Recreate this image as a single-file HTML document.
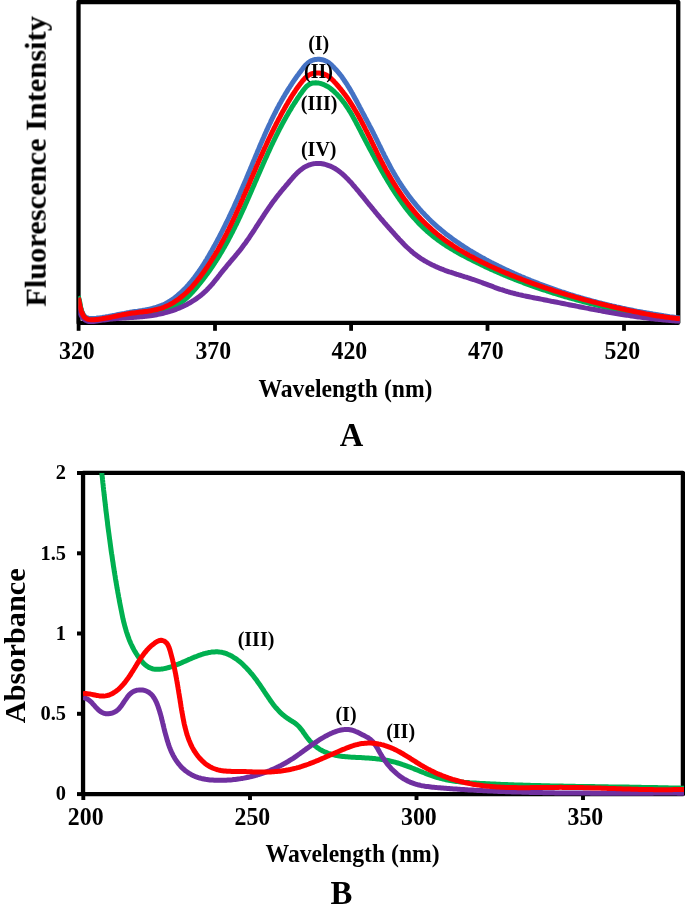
<!DOCTYPE html>
<html><head><meta charset="utf-8"><style>
html,body{margin:0;padding:0;background:#fff;width:685px;height:915px;overflow:hidden}
svg{display:block}
text{font-family:"Liberation Serif", serif;font-weight:bold;fill:#000}
.tx{will-change:transform}
</style></head><body>
<svg width="685" height="915" viewBox="0 0 685 915">
<rect x="78.5" y="2.0" width="599.75" height="320.85" fill="none" stroke="#000" stroke-width="4.3" stroke-linejoin="round"/>
<line x1="78.60" y1="323" x2="78.60" y2="330.8" stroke="#000" stroke-width="3.8"/>
<line x1="215.00" y1="323" x2="215.00" y2="330.8" stroke="#000" stroke-width="3.8"/>
<line x1="351.10" y1="323" x2="351.10" y2="330.8" stroke="#000" stroke-width="3.8"/>
<line x1="487.50" y1="323" x2="487.50" y2="330.8" stroke="#000" stroke-width="3.8"/>
<line x1="624.00" y1="323" x2="624.00" y2="330.8" stroke="#000" stroke-width="3.8"/>
<clipPath id="clipA"><rect x="78.3" y="-10" width="601.7" height="340"/></clipPath>
<g fill="none" stroke-linejoin="round" stroke-linecap="butt" stroke-width="5.00" clip-path="url(#clipA)">
<path d="M78.3,297.1 L78.6,298.3 L78.9,299.6 L79.2,301.0 L79.5,302.5 L79.8,304.1 L80.2,305.7 L80.5,307.3 L81.0,308.9 L81.4,310.4 L82.0,311.9 L82.6,313.2 L83.3,314.5 L84.2,315.6 L85.1,316.6 L86.1,317.4 L87.3,318.0 L88.6,318.3 L90.0,318.5 L91.5,318.6 L93.0,318.6 L94.6,318.4 L96.2,318.3 L97.7,318.1 L99.3,317.9 L100.8,317.7 L102.3,317.5 L103.8,317.2 L105.3,317.0 L106.8,316.7 L108.3,316.5 L109.8,316.2 L111.2,315.9 L112.7,315.6 L114.2,315.4 L115.6,315.1 L117.1,314.8 L118.5,314.5 L120.0,314.2 L121.4,313.9 L122.9,313.6 L124.3,313.4 L125.8,313.1 L127.3,312.8 L128.7,312.6 L130.2,312.3 L131.7,312.1 L133.2,311.8 L134.7,311.6 L136.2,311.4 L137.7,311.2 L139.2,310.9 L140.6,310.7 L142.1,310.5 L143.6,310.2 L145.1,310.0 L146.6,309.7 L148.1,309.4 L149.6,309.1 L151.0,308.8 L152.5,308.4 L153.9,308.0 L155.4,307.6 L156.8,307.2 L158.2,306.7 L159.6,306.2 L161.0,305.7 L162.3,305.1 L163.7,304.5 L165.0,303.9 L166.3,303.2 L167.6,302.5 L168.9,301.7 L170.1,301.0 L171.4,300.2 L172.6,299.3 L173.8,298.5 L175.0,297.6 L176.2,296.6 L177.4,295.7 L178.5,294.7 L179.6,293.7 L180.8,292.7 L181.9,291.7 L183.0,290.6 L184.0,289.6 L185.1,288.5 L186.2,287.4 L187.2,286.2 L188.2,285.1 L189.2,283.9 L190.2,282.8 L191.2,281.6 L192.2,280.4 L193.1,279.2 L194.1,278.0 L195.0,276.8 L195.9,275.5 L196.8,274.3 L197.7,273.1 L198.6,271.8 L199.5,270.6 L200.3,269.3 L201.2,268.0 L202.0,266.8 L202.8,265.5 L203.6,264.3 L204.4,263.0 L205.2,261.7 L206.0,260.5 L206.8,259.2 L207.5,257.9 L208.3,256.6 L209.0,255.4 L209.8,254.1 L210.5,252.8 L211.2,251.5 L212.0,250.2 L212.7,248.9 L213.4,247.6 L214.1,246.3 L214.9,245.0 L215.6,243.7 L216.3,242.4 L217.0,241.1 L217.7,239.8 L218.4,238.5 L219.1,237.2 L219.8,235.8 L220.5,234.5 L221.1,233.2 L221.8,231.9 L222.5,230.5 L223.2,229.2 L223.8,227.9 L224.5,226.5 L225.2,225.2 L225.8,223.8 L226.5,222.5 L227.1,221.2 L227.8,219.8 L228.4,218.5 L229.1,217.1 L229.7,215.7 L230.4,214.4 L231.0,213.0 L231.7,211.7 L232.3,210.3 L232.9,209.0 L233.6,207.6 L234.2,206.2 L234.8,204.9 L235.4,203.5 L236.0,202.1 L236.7,200.8 L237.3,199.4 L237.9,198.0 L238.5,196.6 L239.1,195.3 L239.7,193.9 L240.3,192.5 L240.9,191.1 L241.5,189.7 L242.1,188.4 L242.7,187.0 L243.3,185.6 L243.9,184.2 L244.5,182.8 L245.1,181.4 L245.7,180.1 L246.3,178.7 L246.8,177.3 L247.4,175.9 L248.0,174.5 L248.6,173.1 L249.2,171.7 L249.8,170.4 L250.3,169.0 L250.9,167.6 L251.5,166.2 L252.1,164.8 L252.6,163.4 L253.2,162.0 L253.8,160.6 L254.4,159.2 L254.9,157.9 L255.5,156.5 L256.1,155.1 L256.7,153.7 L257.2,152.3 L257.8,150.9 L258.4,149.6 L259.0,148.2 L259.6,146.8 L260.1,145.4 L260.7,144.0 L261.3,142.7 L261.9,141.3 L262.5,139.9 L263.1,138.5 L263.7,137.2 L264.3,135.8 L264.9,134.4 L265.5,133.0 L266.1,131.7 L266.7,130.3 L267.4,129.0 L268.0,127.6 L268.6,126.2 L269.2,124.9 L269.9,123.5 L270.5,122.2 L271.1,120.8 L271.8,119.5 L272.4,118.1 L273.1,116.8 L273.7,115.5 L274.4,114.1 L275.1,112.8 L275.8,111.5 L276.4,110.1 L277.1,108.8 L277.8,107.5 L278.5,106.2 L279.2,104.8 L279.9,103.5 L280.7,102.2 L281.4,100.9 L282.1,99.6 L282.9,98.3 L283.6,97.0 L284.4,95.7 L285.1,94.4 L285.9,93.2 L286.7,91.9 L287.5,90.6 L288.2,89.3 L289.0,88.1 L289.9,86.8 L290.7,85.5 L291.5,84.3 L292.3,83.0 L293.2,81.8 L294.0,80.5 L294.9,79.3 L295.8,78.1 L296.6,76.8 L297.5,75.6 L298.4,74.4 L299.3,73.1 L300.2,71.9 L301.1,70.7 L302.1,69.5 L303.0,68.3 L303.9,67.1 L304.9,65.9 L305.9,64.8 L307.0,63.8 L308.1,62.8 L309.3,61.9 L310.5,61.2 L311.8,60.5 L313.2,60.0 L314.7,59.6 L316.2,59.4 L317.7,59.3 L319.2,59.3 L320.7,59.5 L322.2,59.7 L323.7,60.2 L325.1,60.7 L326.5,61.3 L327.8,62.1 L329.0,62.9 L330.2,63.9 L331.3,64.9 L332.4,65.9 L333.5,67.0 L334.5,68.1 L335.5,69.2 L336.5,70.3 L337.5,71.4 L338.5,72.6 L339.4,73.8 L340.4,74.9 L341.3,76.1 L342.2,77.3 L343.0,78.6 L343.9,79.8 L344.7,81.0 L345.6,82.3 L346.4,83.5 L347.2,84.8 L348.0,86.1 L348.8,87.3 L349.5,88.6 L350.3,89.9 L351.1,91.2 L351.8,92.5 L352.6,93.8 L353.3,95.1 L354.0,96.5 L354.7,97.8 L355.4,99.1 L356.2,100.4 L356.9,101.8 L357.6,103.1 L358.3,104.4 L359.0,105.7 L359.7,107.1 L360.4,108.4 L361.1,109.7 L361.8,111.1 L362.5,112.4 L363.2,113.7 L363.9,115.0 L364.6,116.3 L365.3,117.7 L366.0,119.0 L366.7,120.3 L367.4,121.6 L368.1,122.9 L368.8,124.2 L369.5,125.6 L370.2,126.9 L370.9,128.2 L371.6,129.5 L372.3,130.9 L372.9,132.2 L373.6,133.5 L374.3,134.9 L375.0,136.2 L375.6,137.6 L376.3,138.9 L377.0,140.3 L377.6,141.6 L378.3,143.0 L378.9,144.3 L379.6,145.7 L380.3,147.0 L380.9,148.4 L381.6,149.7 L382.2,151.1 L382.9,152.4 L383.6,153.7 L384.2,155.1 L384.9,156.4 L385.6,157.8 L386.3,159.1 L387.0,160.5 L387.7,161.8 L388.4,163.1 L389.1,164.5 L389.8,165.8 L390.5,167.1 L391.2,168.4 L391.9,169.7 L392.7,171.0 L393.4,172.3 L394.2,173.6 L394.9,174.9 L395.7,176.2 L396.5,177.5 L397.3,178.8 L398.0,180.1 L398.8,181.3 L399.7,182.6 L400.5,183.9 L401.3,185.1 L402.1,186.4 L403.0,187.6 L403.8,188.9 L404.7,190.1 L405.5,191.3 L406.4,192.5 L407.3,193.7 L408.2,195.0 L409.1,196.2 L410.0,197.4 L410.9,198.5 L411.8,199.7 L412.7,200.9 L413.7,202.1 L414.6,203.2 L415.6,204.4 L416.5,205.5 L417.5,206.7 L418.5,207.8 L419.4,208.9 L420.4,210.0 L421.4,211.1 L422.4,212.2 L423.5,213.3 L424.5,214.4 L425.5,215.5 L426.6,216.6 L427.6,217.6 L428.7,218.7 L429.7,219.7 L430.8,220.8 L431.9,221.8 L433.0,222.8 L434.1,223.8 L435.2,224.8 L436.3,225.8 L437.4,226.8 L438.5,227.8 L439.7,228.7 L440.8,229.7 L442.0,230.7 L443.1,231.6 L444.3,232.5 L445.4,233.5 L446.6,234.4 L447.8,235.3 L449.0,236.2 L450.2,237.1 L451.4,238.0 L452.6,238.9 L453.8,239.8 L455.0,240.6 L456.3,241.5 L457.5,242.4 L458.7,243.2 L460.0,244.1 L461.2,244.9 L462.5,245.7 L463.7,246.5 L465.0,247.4 L466.3,248.2 L467.5,249.0 L468.8,249.8 L470.1,250.6 L471.4,251.3 L472.7,252.1 L474.0,252.9 L475.3,253.7 L476.6,254.4 L477.9,255.2 L479.2,255.9 L480.5,256.7 L481.8,257.4 L483.1,258.1 L484.5,258.8 L485.8,259.6 L487.1,260.3 L488.4,261.0 L489.8,261.7 L491.1,262.4 L492.5,263.1 L493.8,263.8 L495.2,264.4 L496.5,265.1 L497.9,265.8 L499.2,266.4 L500.6,267.1 L501.9,267.8 L503.3,268.4 L504.6,269.1 L506.0,269.7 L507.4,270.3 L508.7,271.0 L510.1,271.6 L511.5,272.2 L512.8,272.8 L514.2,273.5 L515.6,274.1 L517.0,274.7 L518.3,275.3 L519.7,275.9 L521.1,276.5 L522.5,277.0 L523.9,277.6 L525.2,278.2 L526.6,278.8 L528.0,279.4 L529.4,279.9 L530.8,280.5 L532.2,281.0 L533.6,281.6 L535.0,282.1 L536.4,282.7 L537.8,283.2 L539.2,283.8 L540.6,284.3 L542.0,284.8 L543.4,285.3 L544.8,285.9 L546.2,286.4 L547.6,286.9 L549.0,287.4 L550.4,287.9 L551.8,288.4 L553.2,288.9 L554.6,289.4 L556.0,289.9 L557.4,290.4 L558.9,290.8 L560.3,291.3 L561.7,291.8 L563.1,292.2 L564.5,292.7 L566.0,293.2 L567.4,293.6 L568.8,294.1 L570.2,294.5 L571.7,295.0 L573.1,295.4 L574.5,295.8 L575.9,296.3 L577.4,296.7 L578.8,297.1 L580.2,297.5 L581.7,298.0 L583.1,298.4 L584.6,298.8 L586.0,299.2 L587.4,299.6 L588.9,300.0 L590.3,300.4 L591.8,300.8 L593.2,301.2 L594.6,301.5 L596.1,301.9 L597.5,302.3 L599.0,302.7 L600.4,303.0 L601.9,303.4 L603.3,303.8 L604.8,304.1 L606.2,304.5 L607.7,304.8 L609.2,305.2 L610.6,305.5 L612.1,305.9 L613.5,306.2 L615.0,306.5 L616.4,306.9 L617.9,307.2 L619.4,307.5 L620.8,307.8 L622.3,308.2 L623.8,308.5 L625.2,308.8 L626.7,309.1 L628.2,309.4 L629.6,309.7 L631.1,310.0 L632.6,310.3 L634.0,310.6 L635.5,310.9 L637.0,311.2 L638.5,311.4 L639.9,311.7 L641.4,312.0 L642.9,312.3 L644.4,312.5 L645.9,312.8 L647.3,313.1 L648.8,313.3 L650.3,313.6 L651.8,313.8 L653.3,314.1 L654.7,314.3 L656.2,314.6 L657.7,314.8 L659.2,315.1 L660.7,315.3 L662.2,315.5 L663.7,315.8 L665.1,316.0 L666.6,316.2 L668.1,316.4 L669.6,316.7 L671.1,316.9 L672.6,317.1 L674.1,317.3 L675.6,317.5 L677.1,317.7 L678.6,317.9 L680.1,318.1" stroke="#4472C4"/>
<path d="M78.1,296.3 L78.6,297.6 L79.0,298.9 L79.4,300.3 L79.7,301.8 L79.9,303.3 L80.2,304.8 L80.5,306.4 L80.8,307.9 L81.1,309.5 L81.5,311.0 L82.0,312.5 L82.6,314.0 L83.2,315.3 L84.0,316.5 L84.9,317.6 L85.9,318.5 L87.1,319.2 L88.3,319.7 L89.7,320.0 L91.2,320.2 L92.7,320.2 L94.2,320.2 L95.8,320.1 L97.3,320.0 L98.9,319.9 L100.4,319.7 L101.9,319.5 L103.4,319.3 L104.9,319.1 L106.4,318.9 L107.9,318.7 L109.3,318.5 L110.8,318.3 L112.2,318.0 L113.7,317.8 L115.1,317.5 L116.6,317.3 L118.0,317.0 L119.5,316.7 L120.9,316.5 L122.4,316.2 L123.8,316.0 L125.3,315.7 L126.8,315.5 L128.2,315.2 L129.7,315.0 L131.2,314.8 L132.7,314.6 L134.2,314.4 L135.7,314.2 L137.2,314.0 L138.7,313.8 L140.3,313.6 L141.8,313.4 L143.3,313.2 L144.8,313.0 L146.4,312.8 L147.9,312.6 L149.4,312.3 L150.9,312.1 L152.4,311.9 L153.9,311.6 L155.4,311.4 L156.9,311.1 L158.4,310.8 L159.9,310.5 L161.4,310.1 L162.8,309.8 L164.3,309.4 L165.7,309.0 L167.2,308.6 L168.6,308.1 L170.0,307.6 L171.4,307.1 L172.7,306.6 L174.1,306.0 L175.4,305.4 L176.7,304.8 L178.0,304.1 L179.3,303.4 L180.5,302.6 L181.8,301.8 L183.0,301.0 L184.2,300.1 L185.3,299.1 L186.5,298.2 L187.6,297.2 L188.7,296.1 L189.7,295.0 L190.8,293.9 L191.8,292.8 L192.9,291.7 L193.9,290.5 L194.9,289.4 L195.9,288.2 L196.9,287.1 L197.8,285.9 L198.8,284.7 L199.8,283.5 L200.7,282.3 L201.6,281.2 L202.6,280.0 L203.5,278.8 L204.4,277.6 L205.3,276.4 L206.2,275.1 L207.1,273.9 L208.0,272.7 L208.9,271.5 L209.7,270.3 L210.6,269.0 L211.4,267.8 L212.3,266.5 L213.1,265.3 L213.9,264.1 L214.8,262.8 L215.6,261.5 L216.4,260.3 L217.2,259.0 L218.0,257.8 L218.8,256.5 L219.5,255.2 L220.3,253.9 L221.1,252.7 L221.8,251.4 L222.6,250.1 L223.3,248.8 L224.1,247.5 L224.8,246.2 L225.5,244.9 L226.3,243.6 L227.0,242.3 L227.7,241.0 L228.4,239.7 L229.1,238.3 L229.8,237.0 L230.5,235.7 L231.2,234.4 L231.9,233.0 L232.6,231.7 L233.2,230.4 L233.9,229.0 L234.6,227.7 L235.2,226.4 L235.9,225.0 L236.6,223.7 L237.2,222.3 L237.9,221.0 L238.5,219.6 L239.1,218.3 L239.8,216.9 L240.4,215.6 L241.0,214.2 L241.7,212.8 L242.3,211.5 L242.9,210.1 L243.5,208.8 L244.2,207.4 L244.8,206.0 L245.4,204.6 L246.0,203.3 L246.6,201.9 L247.2,200.5 L247.8,199.2 L248.4,197.8 L249.0,196.4 L249.6,195.0 L250.2,193.7 L250.8,192.3 L251.4,190.9 L252.0,189.5 L252.6,188.1 L253.2,186.8 L253.8,185.4 L254.4,184.0 L255.0,182.6 L255.6,181.2 L256.2,179.9 L256.8,178.5 L257.4,177.1 L258.0,175.7 L258.6,174.3 L259.2,172.9 L259.8,171.6 L260.4,170.2 L261.0,168.8 L261.6,167.4 L262.2,166.1 L262.8,164.7 L263.4,163.3 L264.0,161.9 L264.6,160.6 L265.2,159.2 L265.9,157.8 L266.5,156.4 L267.1,155.1 L267.7,153.7 L268.3,152.3 L269.0,151.0 L269.6,149.6 L270.2,148.3 L270.8,146.9 L271.5,145.5 L272.1,144.2 L272.8,142.8 L273.4,141.5 L274.1,140.1 L274.7,138.8 L275.4,137.4 L276.0,136.1 L276.7,134.8 L277.4,133.4 L278.0,132.1 L278.7,130.8 L279.4,129.4 L280.1,128.1 L280.8,126.8 L281.5,125.5 L282.2,124.1 L282.9,122.8 L283.6,121.5 L284.3,120.2 L285.1,118.9 L285.8,117.6 L286.5,116.3 L287.3,115.0 L288.0,113.7 L288.8,112.4 L289.5,111.1 L290.3,109.9 L291.1,108.6 L291.8,107.3 L292.6,106.0 L293.4,104.8 L294.2,103.5 L295.0,102.3 L295.9,101.0 L296.7,99.7 L297.5,98.5 L298.4,97.2 L299.3,95.9 L300.1,94.7 L301.0,93.4 L301.9,92.2 L302.8,90.9 L303.7,89.7 L304.7,88.5 L305.7,87.3 L306.7,86.3 L307.8,85.4 L309.0,84.5 L310.2,83.9 L311.5,83.4 L312.9,83.0 L314.3,82.9 L315.7,82.8 L317.2,82.9 L318.7,83.1 L320.2,83.4 L321.7,83.9 L323.2,84.4 L324.6,85.0 L326.0,85.7 L327.4,86.4 L328.7,87.2 L329.9,88.1 L331.1,89.0 L332.3,90.0 L333.4,90.9 L334.5,91.9 L335.6,93.0 L336.7,94.0 L337.7,95.1 L338.7,96.2 L339.7,97.3 L340.7,98.4 L341.6,99.6 L342.5,100.7 L343.4,101.9 L344.3,103.1 L345.2,104.3 L346.0,105.5 L346.9,106.8 L347.7,108.0 L348.5,109.3 L349.3,110.6 L350.1,111.8 L350.9,113.1 L351.6,114.4 L352.4,115.7 L353.1,117.1 L353.8,118.4 L354.6,119.7 L355.3,121.0 L356.0,122.4 L356.7,123.7 L357.4,125.0 L358.1,126.4 L358.8,127.7 L359.5,129.1 L360.2,130.4 L360.9,131.7 L361.5,133.1 L362.2,134.4 L362.9,135.7 L363.6,137.1 L364.3,138.4 L365.0,139.7 L365.7,141.1 L366.4,142.4 L367.1,143.7 L367.8,145.0 L368.5,146.4 L369.2,147.7 L369.9,149.0 L370.6,150.3 L371.3,151.6 L372.0,152.9 L372.7,154.3 L373.4,155.6 L374.1,156.9 L374.8,158.2 L375.5,159.5 L376.2,160.8 L376.9,162.1 L377.6,163.5 L378.4,164.8 L379.1,166.1 L379.8,167.4 L380.6,168.7 L381.3,170.0 L382.0,171.3 L382.8,172.6 L383.5,173.9 L384.3,175.2 L385.0,176.5 L385.8,177.8 L386.6,179.1 L387.3,180.4 L388.1,181.7 L388.9,183.0 L389.7,184.3 L390.5,185.6 L391.2,186.8 L392.0,188.1 L392.9,189.4 L393.7,190.7 L394.5,191.9 L395.3,193.2 L396.1,194.4 L397.0,195.7 L397.8,196.9 L398.7,198.2 L399.5,199.4 L400.4,200.6 L401.3,201.9 L402.1,203.1 L403.0,204.3 L403.9,205.5 L404.8,206.7 L405.7,207.9 L406.6,209.1 L407.6,210.3 L408.5,211.4 L409.4,212.6 L410.4,213.8 L411.3,214.9 L412.3,216.1 L413.3,217.2 L414.3,218.3 L415.3,219.4 L416.3,220.5 L417.3,221.6 L418.3,222.7 L419.3,223.8 L420.4,224.8 L421.4,225.9 L422.5,226.9 L423.6,228.0 L424.6,229.0 L425.7,230.0 L426.8,231.0 L428.0,232.0 L429.1,233.0 L430.2,233.9 L431.4,234.9 L432.5,235.8 L433.7,236.8 L434.9,237.7 L436.1,238.6 L437.3,239.5 L438.5,240.4 L439.7,241.2 L440.9,242.1 L442.2,243.0 L443.4,243.8 L444.7,244.6 L445.9,245.5 L447.2,246.3 L448.5,247.1 L449.8,247.9 L451.0,248.7 L452.3,249.4 L453.6,250.2 L454.9,251.0 L456.3,251.7 L457.6,252.5 L458.9,253.2 L460.2,254.0 L461.5,254.7 L462.9,255.4 L464.2,256.1 L465.5,256.8 L466.9,257.5 L468.2,258.2 L469.6,258.9 L470.9,259.6 L472.3,260.3 L473.6,261.0 L475.0,261.6 L476.3,262.3 L477.7,263.0 L479.0,263.6 L480.4,264.3 L481.7,264.9 L483.1,265.6 L484.4,266.2 L485.8,266.9 L487.1,267.5 L488.5,268.1 L489.8,268.7 L491.2,269.4 L492.6,270.0 L493.9,270.6 L495.3,271.2 L496.6,271.8 L498.0,272.4 L499.4,273.0 L500.7,273.6 L502.1,274.2 L503.5,274.8 L504.9,275.3 L506.2,275.9 L507.6,276.5 L509.0,277.1 L510.4,277.6 L511.7,278.2 L513.1,278.7 L514.5,279.3 L515.9,279.8 L517.3,280.4 L518.7,280.9 L520.1,281.5 L521.5,282.0 L522.9,282.5 L524.3,283.1 L525.7,283.6 L527.1,284.1 L528.5,284.6 L529.9,285.1 L531.3,285.6 L532.7,286.1 L534.1,286.6 L535.5,287.1 L536.9,287.6 L538.4,288.1 L539.8,288.6 L541.2,289.1 L542.6,289.6 L544.0,290.0 L545.5,290.5 L546.9,291.0 L548.3,291.4 L549.7,291.9 L551.2,292.4 L552.6,292.8 L554.0,293.3 L555.5,293.7 L556.9,294.2 L558.3,294.6 L559.8,295.0 L561.2,295.5 L562.6,295.9 L564.1,296.3 L565.5,296.8 L567.0,297.2 L568.4,297.6 L569.9,298.0 L571.3,298.4 L572.8,298.8 L574.2,299.2 L575.6,299.6 L577.1,300.0 L578.5,300.4 L580.0,300.8 L581.5,301.2 L582.9,301.6 L584.4,302.0 L585.8,302.3 L587.3,302.7 L588.7,303.1 L590.2,303.5 L591.6,303.8 L593.1,304.2 L594.6,304.6 L596.0,304.9 L597.5,305.3 L598.9,305.6 L600.4,306.0 L601.9,306.3 L603.3,306.7 L604.8,307.0 L606.3,307.3 L607.7,307.7 L609.2,308.0 L610.7,308.3 L612.1,308.7 L613.6,309.0 L615.1,309.3 L616.5,309.6 L618.0,309.9 L619.5,310.2 L621.0,310.5 L622.4,310.8 L623.9,311.1 L625.4,311.4 L626.8,311.7 L628.3,312.0 L629.8,312.3 L631.3,312.6 L632.7,312.9 L634.2,313.2 L635.7,313.5 L637.2,313.8 L638.6,314.0 L640.1,314.3 L641.6,314.6 L643.1,314.8 L644.5,315.1 L646.0,315.4 L647.5,315.6 L649.0,315.9 L650.4,316.1 L651.9,316.4 L653.4,316.6 L654.9,316.9 L656.3,317.1 L657.8,317.4 L659.3,317.6 L660.7,317.9 L662.2,318.1 L663.7,318.3 L665.2,318.6 L666.6,318.8 L668.1,319.0 L669.6,319.2 L671.1,319.5 L672.5,319.7 L674.0,319.9 L675.5,320.1 L677.0,320.3 L678.4,320.5 L679.9,320.7" stroke="#00B050"/>
<path d="M78.2,305.7 L78.5,307.3 L78.8,308.9 L79.2,310.5 L79.7,312.1 L80.3,313.6 L80.9,315.0 L81.7,316.3 L82.5,317.5 L83.5,318.6 L84.5,319.5 L85.6,320.3 L86.8,320.8 L88.0,321.2 L89.3,321.5 L90.7,321.6 L92.1,321.6 L93.6,321.5 L95.1,321.3 L96.6,321.1 L98.1,320.8 L99.7,320.5 L101.2,320.3 L102.8,320.1 L104.3,319.9 L105.8,319.7 L107.4,319.5 L108.9,319.3 L110.4,319.1 L111.9,319.0 L113.4,318.8 L115.0,318.7 L116.5,318.6 L118.0,318.4 L119.5,318.3 L121.0,318.2 L122.5,318.1 L124.0,318.0 L125.5,317.9 L127.0,317.8 L128.5,317.7 L130.0,317.6 L131.5,317.5 L133.0,317.4 L134.5,317.3 L136.0,317.2 L137.5,317.1 L138.9,316.9 L140.4,316.8 L141.9,316.7 L143.4,316.5 L144.9,316.4 L146.3,316.2 L147.8,316.0 L149.3,315.9 L150.7,315.7 L152.2,315.4 L153.7,315.2 L155.1,315.0 L156.6,314.7 L158.1,314.4 L159.5,314.1 L161.0,313.8 L162.4,313.5 L163.9,313.1 L165.3,312.7 L166.8,312.3 L168.2,311.9 L169.7,311.5 L171.1,311.0 L172.5,310.6 L174.0,310.1 L175.4,309.6 L176.8,309.0 L178.2,308.5 L179.6,307.9 L181.0,307.3 L182.3,306.7 L183.7,306.0 L185.1,305.4 L186.4,304.7 L187.7,304.0 L189.1,303.2 L190.4,302.5 L191.7,301.7 L192.9,300.9 L194.2,300.1 L195.4,299.3 L196.7,298.5 L197.9,297.6 L199.1,296.7 L200.3,295.8 L201.4,294.8 L202.6,293.9 L203.7,292.9 L204.8,291.9 L205.9,290.9 L207.0,289.8 L208.0,288.7 L209.1,287.6 L210.1,286.5 L211.1,285.4 L212.1,284.3 L213.1,283.1 L214.0,281.9 L215.0,280.8 L215.9,279.6 L216.9,278.4 L217.8,277.2 L218.7,276.0 L219.7,274.8 L220.6,273.6 L221.5,272.4 L222.5,271.3 L223.4,270.1 L224.4,268.9 L225.3,267.8 L226.3,266.6 L227.2,265.4 L228.2,264.3 L229.2,263.2 L230.1,262.0 L231.1,260.9 L232.1,259.7 L233.0,258.6 L234.0,257.5 L235.0,256.3 L235.9,255.2 L236.9,254.0 L237.8,252.9 L238.8,251.7 L239.7,250.6 L240.6,249.4 L241.5,248.2 L242.4,247.0 L243.3,245.8 L244.2,244.6 L245.1,243.4 L246.0,242.2 L246.8,241.0 L247.7,239.7 L248.6,238.5 L249.4,237.3 L250.2,236.0 L251.1,234.8 L251.9,233.5 L252.7,232.3 L253.6,231.0 L254.4,229.8 L255.2,228.5 L256.0,227.2 L256.8,226.0 L257.7,224.7 L258.5,223.4 L259.3,222.2 L260.1,220.9 L260.9,219.7 L261.8,218.4 L262.6,217.1 L263.4,215.9 L264.2,214.6 L265.0,213.4 L265.9,212.1 L266.7,210.9 L267.6,209.6 L268.4,208.4 L269.3,207.1 L270.1,205.9 L271.0,204.7 L271.8,203.5 L272.7,202.3 L273.6,201.1 L274.5,199.9 L275.4,198.7 L276.3,197.5 L277.2,196.3 L278.1,195.2 L279.1,194.0 L280.0,192.8 L280.9,191.7 L281.9,190.5 L282.8,189.4 L283.8,188.2 L284.8,187.1 L285.7,185.9 L286.7,184.8 L287.7,183.6 L288.7,182.5 L289.6,181.3 L290.6,180.2 L291.6,179.0 L292.6,177.9 L293.6,176.7 L294.6,175.6 L295.7,174.5 L296.7,173.4 L297.8,172.3 L298.9,171.3 L300.1,170.3 L301.3,169.4 L302.5,168.5 L303.7,167.7 L305.0,166.9 L306.3,166.2 L307.7,165.6 L309.0,165.0 L310.4,164.6 L311.9,164.2 L313.3,163.8 L314.7,163.6 L316.2,163.4 L317.7,163.4 L319.2,163.4 L320.7,163.5 L322.1,163.7 L323.6,164.0 L325.1,164.4 L326.6,164.8 L328.0,165.3 L329.5,165.8 L330.9,166.4 L332.3,167.1 L333.6,167.8 L335.0,168.5 L336.3,169.3 L337.5,170.2 L338.7,171.0 L339.9,171.9 L341.1,172.9 L342.3,173.8 L343.4,174.8 L344.5,175.8 L345.6,176.9 L346.6,177.9 L347.7,179.0 L348.7,180.1 L349.7,181.2 L350.8,182.3 L351.8,183.4 L352.7,184.6 L353.7,185.7 L354.7,186.8 L355.7,188.0 L356.6,189.1 L357.6,190.3 L358.6,191.4 L359.5,192.6 L360.5,193.8 L361.4,194.9 L362.4,196.1 L363.3,197.2 L364.3,198.4 L365.2,199.6 L366.2,200.7 L367.1,201.9 L368.0,203.1 L369.0,204.2 L369.9,205.4 L370.9,206.5 L371.8,207.7 L372.8,208.9 L373.7,210.0 L374.7,211.2 L375.6,212.3 L376.6,213.5 L377.5,214.6 L378.5,215.8 L379.5,216.9 L380.4,218.1 L381.4,219.2 L382.4,220.3 L383.4,221.5 L384.3,222.6 L385.3,223.7 L386.3,224.9 L387.3,226.0 L388.3,227.1 L389.3,228.3 L390.3,229.4 L391.3,230.5 L392.3,231.6 L393.3,232.7 L394.3,233.9 L395.3,235.0 L396.3,236.1 L397.3,237.2 L398.3,238.3 L399.3,239.4 L400.4,240.5 L401.4,241.6 L402.5,242.7 L403.5,243.8 L404.6,244.9 L405.6,245.9 L406.7,247.0 L407.8,248.0 L408.9,249.0 L410.0,250.0 L411.1,251.0 L412.3,252.0 L413.4,253.0 L414.6,253.9 L415.8,254.8 L417.0,255.7 L418.2,256.6 L419.4,257.4 L420.6,258.3 L421.9,259.1 L423.2,259.9 L424.4,260.7 L425.7,261.4 L427.1,262.2 L428.4,262.9 L429.7,263.6 L431.0,264.3 L432.4,265.0 L433.7,265.6 L435.1,266.3 L436.5,266.9 L437.9,267.5 L439.2,268.1 L440.6,268.6 L442.0,269.2 L443.4,269.7 L444.8,270.3 L446.3,270.8 L447.7,271.3 L449.1,271.8 L450.5,272.2 L451.9,272.7 L453.4,273.2 L454.8,273.6 L456.2,274.1 L457.6,274.5 L459.1,275.0 L460.5,275.4 L461.9,275.9 L463.4,276.3 L464.8,276.8 L466.2,277.2 L467.7,277.7 L469.1,278.1 L470.5,278.6 L472.0,279.1 L473.4,279.5 L474.8,280.0 L476.2,280.5 L477.6,281.0 L479.0,281.5 L480.4,282.0 L481.9,282.5 L483.3,283.1 L484.7,283.6 L486.1,284.1 L487.5,284.6 L488.9,285.2 L490.3,285.7 L491.7,286.2 L493.1,286.7 L494.5,287.3 L495.9,287.8 L497.3,288.3 L498.7,288.8 L500.1,289.3 L501.6,289.7 L503.0,290.2 L504.4,290.7 L505.8,291.1 L507.3,291.5 L508.7,292.0 L510.1,292.4 L511.6,292.8 L513.0,293.1 L514.5,293.5 L515.9,293.9 L517.4,294.2 L518.8,294.6 L520.3,294.9 L521.8,295.2 L523.2,295.6 L524.7,295.9 L526.2,296.2 L527.6,296.5 L529.1,296.8 L530.6,297.1 L532.0,297.4 L533.5,297.7 L535.0,298.0 L536.5,298.2 L537.9,298.5 L539.4,298.8 L540.9,299.1 L542.4,299.4 L543.8,299.7 L545.3,300.0 L546.8,300.3 L548.3,300.6 L549.7,300.9 L551.2,301.2 L552.7,301.4 L554.1,301.7 L555.6,302.0 L557.1,302.3 L558.6,302.6 L560.0,302.9 L561.5,303.2 L563.0,303.5 L564.5,303.8 L565.9,304.1 L567.4,304.4 L568.9,304.7 L570.3,305.0 L571.8,305.3 L573.3,305.6 L574.8,305.8 L576.2,306.1 L577.7,306.4 L579.2,306.7 L580.6,307.0 L582.1,307.3 L583.6,307.6 L585.1,307.9 L586.5,308.1 L588.0,308.4 L589.5,308.7 L590.9,309.0 L592.4,309.3 L593.9,309.5 L595.4,309.8 L596.8,310.1 L598.3,310.4 L599.8,310.6 L601.3,310.9 L602.7,311.2 L604.2,311.4 L605.7,311.7 L607.2,312.0 L608.6,312.2 L610.1,312.5 L611.6,312.7 L613.1,313.0 L614.5,313.2 L616.0,313.5 L617.5,313.7 L619.0,314.0 L620.4,314.2 L621.9,314.5 L623.4,314.7 L624.9,314.9 L626.4,315.2 L627.8,315.4 L629.3,315.6 L630.8,315.9 L632.3,316.1 L633.8,316.3 L635.3,316.5 L636.7,316.7 L638.2,316.9 L639.7,317.1 L641.2,317.3 L642.7,317.5 L644.2,317.7 L645.6,317.9 L647.1,318.1 L648.6,318.3 L650.1,318.5 L651.6,318.7 L653.1,318.8 L654.6,319.0 L656.1,319.2 L657.6,319.3 L659.1,319.5 L660.5,319.6 L662.0,319.8 L663.5,319.9 L665.0,320.1 L666.5,320.2 L668.0,320.3 L669.5,320.5 L671.0,320.6 L672.5,320.7 L674.0,320.8 L675.5,320.9 L677.0,321.0 L678.5,321.1 L680.0,321.2" stroke="#7030A0"/>
<path d="M78.2,297.9 L78.6,299.0 L78.9,300.3 L79.2,301.7 L79.5,303.2 L79.8,304.8 L80.1,306.3 L80.5,307.9 L80.9,309.5 L81.3,311.1 L81.9,312.6 L82.5,314.0 L83.2,315.3 L83.9,316.5 L84.8,317.5 L85.9,318.3 L87.0,318.9 L88.3,319.4 L89.7,319.6 L91.2,319.8 L92.7,319.8 L94.2,319.7 L95.8,319.5 L97.4,319.4 L98.9,319.2 L100.4,319.0 L102.0,318.8 L103.5,318.5 L104.9,318.3 L106.4,318.0 L107.9,317.7 L109.3,317.5 L110.8,317.2 L112.2,316.9 L113.7,316.6 L115.1,316.3 L116.6,316.0 L118.0,315.7 L119.4,315.4 L120.9,315.1 L122.3,314.8 L123.8,314.5 L125.2,314.2 L126.7,314.0 L128.2,313.7 L129.6,313.5 L131.1,313.3 L132.6,313.1 L134.1,312.9 L135.7,312.7 L137.2,312.5 L138.7,312.3 L140.2,312.1 L141.8,312.0 L143.3,311.8 L144.8,311.6 L146.3,311.4 L147.9,311.2 L149.4,310.9 L150.9,310.7 L152.4,310.4 L153.9,310.1 L155.3,309.8 L156.8,309.5 L158.2,309.1 L159.7,308.7 L161.1,308.3 L162.5,307.8 L163.9,307.3 L165.2,306.7 L166.6,306.2 L167.9,305.6 L169.2,304.9 L170.5,304.2 L171.8,303.5 L173.0,302.8 L174.3,302.0 L175.5,301.2 L176.7,300.4 L177.9,299.6 L179.1,298.7 L180.2,297.8 L181.4,296.9 L182.5,295.9 L183.7,295.0 L184.8,294.0 L185.9,293.0 L187.0,292.0 L188.0,290.9 L189.1,289.8 L190.1,288.8 L191.2,287.7 L192.2,286.6 L193.2,285.4 L194.2,284.3 L195.2,283.1 L196.1,282.0 L197.1,280.8 L198.0,279.6 L199.0,278.4 L199.9,277.2 L200.8,276.0 L201.7,274.7 L202.6,273.5 L203.5,272.3 L204.4,271.0 L205.3,269.8 L206.1,268.5 L207.0,267.3 L207.8,266.0 L208.7,264.7 L209.5,263.5 L210.3,262.2 L211.1,260.9 L211.9,259.7 L212.7,258.4 L213.5,257.1 L214.3,255.8 L215.1,254.5 L215.8,253.2 L216.6,252.0 L217.4,250.7 L218.1,249.4 L218.8,248.1 L219.6,246.8 L220.3,245.4 L221.0,244.1 L221.7,242.8 L222.4,241.5 L223.1,240.2 L223.8,238.9 L224.5,237.5 L225.2,236.2 L225.9,234.9 L226.6,233.6 L227.2,232.2 L227.9,230.9 L228.6,229.6 L229.2,228.2 L229.9,226.9 L230.5,225.6 L231.2,224.2 L231.8,222.9 L232.4,221.5 L233.1,220.2 L233.7,218.8 L234.3,217.5 L235.0,216.1 L235.6,214.8 L236.2,213.4 L236.8,212.0 L237.4,210.7 L238.0,209.3 L238.6,208.0 L239.3,206.6 L239.9,205.2 L240.5,203.9 L241.1,202.5 L241.7,201.1 L242.3,199.8 L242.9,198.4 L243.4,197.0 L244.0,195.6 L244.6,194.3 L245.2,192.9 L245.8,191.5 L246.4,190.1 L247.0,188.8 L247.6,187.4 L248.2,186.0 L248.8,184.6 L249.4,183.3 L249.9,181.9 L250.5,180.5 L251.1,179.1 L251.7,177.7 L252.3,176.4 L252.9,175.0 L253.5,173.6 L254.1,172.2 L254.7,170.9 L255.3,169.5 L255.9,168.1 L256.4,166.7 L257.0,165.3 L257.6,164.0 L258.2,162.6 L258.8,161.2 L259.4,159.8 L260.0,158.5 L260.6,157.1 L261.3,155.7 L261.9,154.4 L262.5,153.0 L263.1,151.6 L263.7,150.2 L264.3,148.9 L264.9,147.5 L265.6,146.1 L266.2,144.8 L266.8,143.4 L267.4,142.1 L268.1,140.7 L268.7,139.3 L269.3,138.0 L270.0,136.6 L270.6,135.3 L271.3,133.9 L271.9,132.6 L272.6,131.2 L273.3,129.9 L273.9,128.5 L274.6,127.2 L275.3,125.9 L275.9,124.5 L276.6,123.2 L277.3,121.9 L278.0,120.5 L278.7,119.2 L279.4,117.9 L280.1,116.6 L280.8,115.2 L281.5,113.9 L282.2,112.6 L282.9,111.3 L283.7,110.0 L284.4,108.7 L285.1,107.4 L285.9,106.1 L286.6,104.8 L287.4,103.5 L288.1,102.2 L288.9,100.9 L289.7,99.6 L290.4,98.4 L291.2,97.1 L292.0,95.8 L292.8,94.5 L293.6,93.3 L294.5,92.0 L295.3,90.8 L296.1,89.5 L297.0,88.3 L297.9,87.1 L298.7,85.9 L299.6,84.7 L300.5,83.5 L301.5,82.3 L302.4,81.1 L303.4,80.0 L304.4,78.9 L305.4,77.8 L306.5,76.8 L307.7,75.9 L308.9,75.1 L310.2,74.4 L311.5,73.9 L313.0,73.4 L314.4,73.1 L316.0,73.0 L317.5,72.9 L319.1,73.0 L320.6,73.2 L322.1,73.5 L323.6,73.9 L325.1,74.5 L326.4,75.1 L327.7,75.9 L329.0,76.8 L330.1,77.7 L331.3,78.7 L332.3,79.7 L333.4,80.8 L334.4,81.9 L335.5,83.0 L336.5,84.2 L337.5,85.3 L338.4,86.4 L339.4,87.6 L340.4,88.7 L341.3,89.9 L342.2,91.1 L343.1,92.2 L344.0,93.4 L344.9,94.6 L345.8,95.8 L346.7,97.0 L347.5,98.2 L348.4,99.5 L349.2,100.7 L350.0,101.9 L350.8,103.2 L351.6,104.4 L352.4,105.7 L353.2,106.9 L354.0,108.2 L354.7,109.5 L355.5,110.8 L356.2,112.0 L357.0,113.3 L357.7,114.6 L358.5,115.9 L359.2,117.2 L359.9,118.5 L360.6,119.8 L361.3,121.1 L362.0,122.5 L362.7,123.8 L363.4,125.1 L364.1,126.4 L364.8,127.8 L365.4,129.1 L366.1,130.4 L366.8,131.8 L367.5,133.1 L368.1,134.4 L368.8,135.8 L369.5,137.1 L370.1,138.5 L370.8,139.8 L371.4,141.2 L372.1,142.5 L372.8,143.9 L373.4,145.2 L374.1,146.6 L374.8,147.9 L375.4,149.3 L376.1,150.6 L376.8,152.0 L377.4,153.3 L378.1,154.7 L378.8,156.0 L379.4,157.3 L380.1,158.7 L380.8,160.0 L381.5,161.4 L382.2,162.7 L382.9,164.0 L383.6,165.4 L384.3,166.7 L385.0,168.0 L385.7,169.4 L386.4,170.7 L387.2,172.0 L387.9,173.3 L388.7,174.6 L389.4,175.9 L390.2,177.2 L390.9,178.5 L391.7,179.8 L392.5,181.1 L393.3,182.4 L394.1,183.7 L394.9,185.0 L395.7,186.2 L396.5,187.5 L397.3,188.8 L398.1,190.0 L399.0,191.3 L399.8,192.5 L400.6,193.8 L401.5,195.0 L402.4,196.2 L403.2,197.5 L404.1,198.7 L405.0,199.9 L405.9,201.1 L406.8,202.3 L407.7,203.5 L408.6,204.7 L409.5,205.8 L410.5,207.0 L411.4,208.2 L412.4,209.3 L413.3,210.5 L414.3,211.6 L415.3,212.7 L416.2,213.9 L417.2,215.0 L418.2,216.1 L419.2,217.2 L420.2,218.3 L421.3,219.4 L422.3,220.4 L423.3,221.5 L424.4,222.6 L425.4,223.6 L426.5,224.6 L427.6,225.7 L428.7,226.7 L429.8,227.7 L430.9,228.7 L432.0,229.7 L433.1,230.6 L434.2,231.6 L435.3,232.6 L436.5,233.5 L437.6,234.5 L438.8,235.4 L440.0,236.3 L441.1,237.2 L442.3,238.1 L443.5,239.0 L444.7,239.9 L445.9,240.8 L447.1,241.6 L448.4,242.5 L449.6,243.3 L450.8,244.2 L452.1,245.0 L453.3,245.8 L454.6,246.7 L455.8,247.5 L457.1,248.3 L458.3,249.1 L459.6,249.9 L460.9,250.6 L462.2,251.4 L463.5,252.2 L464.8,252.9 L466.1,253.7 L467.4,254.4 L468.7,255.2 L470.0,255.9 L471.3,256.6 L472.7,257.3 L474.0,258.0 L475.3,258.7 L476.7,259.4 L478.0,260.1 L479.3,260.8 L480.7,261.5 L482.0,262.2 L483.4,262.8 L484.8,263.5 L486.1,264.1 L487.5,264.8 L488.8,265.4 L490.2,266.1 L491.6,266.7 L493.0,267.3 L494.3,267.9 L495.7,268.6 L497.1,269.2 L498.5,269.8 L499.9,270.4 L501.2,271.0 L502.6,271.6 L504.0,272.2 L505.4,272.8 L506.8,273.3 L508.2,273.9 L509.6,274.5 L511.0,275.1 L512.3,275.6 L513.7,276.2 L515.1,276.7 L516.5,277.3 L517.9,277.8 L519.3,278.4 L520.7,278.9 L522.1,279.5 L523.5,280.0 L524.9,280.5 L526.3,281.1 L527.7,281.6 L529.1,282.1 L530.5,282.6 L531.9,283.1 L533.3,283.6 L534.7,284.1 L536.1,284.6 L537.6,285.1 L539.0,285.6 L540.4,286.1 L541.8,286.6 L543.2,287.1 L544.6,287.6 L546.0,288.0 L547.4,288.5 L548.9,289.0 L550.3,289.4 L551.7,289.9 L553.1,290.4 L554.5,290.8 L556.0,291.3 L557.4,291.7 L558.8,292.2 L560.2,292.6 L561.6,293.0 L563.1,293.5 L564.5,293.9 L565.9,294.3 L567.4,294.8 L568.8,295.2 L570.2,295.6 L571.6,296.0 L573.1,296.4 L574.5,296.9 L575.9,297.3 L577.4,297.7 L578.8,298.1 L580.3,298.5 L581.7,298.9 L583.1,299.3 L584.6,299.7 L586.0,300.1 L587.5,300.4 L588.9,300.8 L590.4,301.2 L591.8,301.6 L593.2,302.0 L594.7,302.3 L596.1,302.7 L597.6,303.1 L599.0,303.4 L600.5,303.8 L601.9,304.2 L603.4,304.5 L604.9,304.9 L606.3,305.2 L607.8,305.6 L609.2,305.9 L610.7,306.3 L612.1,306.6 L613.6,307.0 L615.1,307.3 L616.5,307.7 L618.0,308.0 L619.5,308.3 L620.9,308.7 L622.4,309.0 L623.9,309.3 L625.3,309.6 L626.8,310.0 L628.3,310.3 L629.7,310.6 L631.2,310.9 L632.7,311.2 L634.1,311.5 L635.6,311.8 L637.1,312.1 L638.6,312.4 L640.0,312.7 L641.5,313.0 L643.0,313.3 L644.5,313.6 L646.0,313.9 L647.4,314.1 L648.9,314.4 L650.4,314.7 L651.9,314.9 L653.3,315.2 L654.8,315.4 L656.3,315.7 L657.8,315.9 L659.3,316.1 L660.7,316.4 L662.2,316.6 L663.7,316.8 L665.2,317.0 L666.7,317.2 L668.1,317.4 L669.6,317.6 L671.1,317.7 L672.6,317.9 L674.1,318.1 L675.5,318.2 L677.0,318.4 L678.5,318.5 L680.0,318.7" stroke="#FF0000"/>
</g>
<rect x="83.05" y="472.9" width="599.85" height="321.2" fill="none" stroke="#000" stroke-width="4.3" stroke-linejoin="round"/>
<line x1="77.0" y1="473.00" x2="83" y2="473.00" stroke="#000" stroke-width="4.0"/>
<line x1="77.0" y1="553.30" x2="83" y2="553.30" stroke="#000" stroke-width="4.0"/>
<line x1="77.0" y1="633.50" x2="83" y2="633.50" stroke="#000" stroke-width="4.0"/>
<line x1="77.0" y1="713.80" x2="83" y2="713.80" stroke="#000" stroke-width="4.0"/>
<line x1="77.0" y1="794.10" x2="83" y2="794.10" stroke="#000" stroke-width="4.0"/>
<line x1="83.30" y1="794" x2="83.30" y2="800.0" stroke="#000" stroke-width="3.9"/>
<line x1="250.00" y1="794" x2="250.00" y2="800.0" stroke="#000" stroke-width="3.9"/>
<line x1="416.50" y1="794" x2="416.50" y2="800.0" stroke="#000" stroke-width="3.9"/>
<line x1="583.00" y1="794" x2="583.00" y2="800.0" stroke="#000" stroke-width="3.9"/>
<clipPath id="clipB"><rect x="83.05" y="472.9" width="601" height="340"/></clipPath>
<g fill="none" stroke-linejoin="round" stroke-linecap="butt" stroke-width="5.00" clip-path="url(#clipB)">
<path d="M101.4,469.0 L101.6,470.5 L101.7,472.0 L101.9,473.5 L102.0,475.0 L102.2,476.5 L102.4,478.0 L102.5,479.5 L102.7,481.0 L102.8,482.5 L103.0,484.0 L103.2,485.5 L103.3,487.0 L103.5,488.5 L103.6,490.0 L103.8,491.5 L104.0,492.9 L104.1,494.4 L104.3,495.9 L104.5,497.4 L104.6,498.9 L104.8,500.4 L105.0,501.9 L105.2,503.4 L105.3,504.9 L105.5,506.4 L105.7,507.8 L105.8,509.3 L106.0,510.8 L106.2,512.3 L106.4,513.8 L106.6,515.3 L106.7,516.7 L106.9,518.2 L107.1,519.7 L107.3,521.2 L107.5,522.7 L107.6,524.2 L107.8,525.6 L108.0,527.1 L108.2,528.6 L108.4,530.1 L108.6,531.6 L108.8,533.0 L109.0,534.5 L109.2,536.0 L109.4,537.5 L109.6,539.0 L109.8,540.4 L110.0,541.9 L110.2,543.4 L110.4,544.9 L110.6,546.4 L110.8,547.8 L111.0,549.3 L111.2,550.8 L111.4,552.3 L111.6,553.7 L111.9,555.2 L112.1,556.7 L112.3,558.2 L112.5,559.7 L112.7,561.1 L113.0,562.6 L113.2,564.1 L113.4,565.6 L113.6,567.0 L113.9,568.5 L114.1,570.0 L114.3,571.5 L114.6,573.0 L114.8,574.4 L115.1,575.9 L115.3,577.4 L115.5,578.9 L115.8,580.4 L116.0,581.8 L116.3,583.3 L116.5,584.8 L116.8,586.3 L117.0,587.8 L117.3,589.2 L117.6,590.7 L117.8,592.2 L118.1,593.7 L118.4,595.2 L118.6,596.7 L118.9,598.1 L119.2,599.6 L119.4,601.1 L119.7,602.6 L120.0,604.1 L120.3,605.6 L120.6,607.1 L120.9,608.6 L121.2,610.0 L121.5,611.5 L121.8,613.0 L122.1,614.5 L122.4,616.0 L122.7,617.5 L123.0,618.9 L123.4,620.4 L123.7,621.9 L124.1,623.3 L124.5,624.8 L124.9,626.3 L125.3,627.7 L125.7,629.1 L126.1,630.6 L126.5,632.0 L127.0,633.4 L127.5,634.9 L128.0,636.3 L128.5,637.7 L129.0,639.1 L129.5,640.4 L130.1,641.8 L130.7,643.2 L131.3,644.5 L132.0,645.9 L132.6,647.2 L133.3,648.5 L134.0,649.9 L134.7,651.1 L135.5,652.4 L136.3,653.7 L137.1,655.0 L137.9,656.2 L138.8,657.4 L139.7,658.7 L140.6,659.9 L141.6,661.0 L142.6,662.2 L143.6,663.3 L144.7,664.3 L145.8,665.3 L147.0,666.2 L148.2,667.0 L149.5,667.7 L150.8,668.2 L152.2,668.7 L153.6,669.0 L155.1,669.2 L156.6,669.3 L158.1,669.3 L159.7,669.2 L161.2,669.1 L162.8,668.9 L164.3,668.6 L165.8,668.3 L167.3,667.9 L168.8,667.5 L170.2,667.1 L171.6,666.7 L172.9,666.2 L174.3,665.7 L175.6,665.2 L176.9,664.7 L178.3,664.2 L179.6,663.6 L181.0,663.0 L182.3,662.4 L183.7,661.8 L185.1,661.2 L186.5,660.6 L188.0,659.9 L189.4,659.3 L190.8,658.7 L192.3,658.0 L193.8,657.4 L195.2,656.8 L196.7,656.3 L198.2,655.7 L199.7,655.2 L201.2,654.6 L202.7,654.2 L204.1,653.7 L205.6,653.3 L207.1,653.0 L208.6,652.6 L210.1,652.4 L211.5,652.1 L213.0,652.0 L214.5,651.9 L215.9,651.8 L217.4,651.8 L218.8,651.9 L220.2,652.1 L221.6,652.3 L223.0,652.6 L224.4,653.0 L225.8,653.4 L227.1,653.9 L228.4,654.5 L229.8,655.1 L231.1,655.8 L232.4,656.5 L233.6,657.3 L234.9,658.1 L236.1,658.9 L237.4,659.8 L238.6,660.8 L239.8,661.7 L240.9,662.7 L242.1,663.7 L243.2,664.8 L244.3,665.9 L245.4,667.0 L246.5,668.1 L247.5,669.2 L248.5,670.3 L249.5,671.4 L250.5,672.6 L251.5,673.7 L252.5,674.9 L253.4,676.0 L254.3,677.2 L255.2,678.4 L256.1,679.6 L257.0,680.8 L257.8,682.0 L258.7,683.2 L259.6,684.4 L260.4,685.6 L261.2,686.8 L262.1,688.1 L262.9,689.3 L263.7,690.5 L264.5,691.8 L265.4,693.1 L266.2,694.3 L267.0,695.6 L267.9,696.8 L268.7,698.1 L269.6,699.3 L270.4,700.5 L271.3,701.8 L272.2,703.0 L273.1,704.2 L274.0,705.4 L274.9,706.6 L275.9,707.7 L276.9,708.8 L277.9,709.9 L278.9,711.0 L279.9,712.1 L281.0,713.1 L282.1,714.1 L283.2,715.1 L284.4,716.0 L285.6,716.9 L286.8,717.8 L288.0,718.6 L289.3,719.5 L290.6,720.3 L291.9,721.1 L293.1,721.9 L294.4,722.7 L295.6,723.6 L296.7,724.5 L297.8,725.5 L298.9,726.5 L299.8,727.6 L300.8,728.8 L301.7,729.9 L302.6,731.1 L303.4,732.4 L304.3,733.6 L305.2,734.9 L306.0,736.1 L306.9,737.3 L307.9,738.5 L308.8,739.7 L309.8,740.9 L310.9,742.0 L311.9,743.1 L313.0,744.1 L314.2,745.1 L315.3,746.1 L316.5,747.0 L317.7,747.9 L319.0,748.8 L320.2,749.6 L321.5,750.3 L322.8,751.0 L324.1,751.6 L325.5,752.2 L326.8,752.7 L328.2,753.3 L329.6,753.7 L331.0,754.1 L332.4,754.5 L333.8,754.9 L335.3,755.2 L336.7,755.5 L338.2,755.7 L339.7,756.0 L341.2,756.2 L342.7,756.4 L344.2,756.5 L345.7,756.7 L347.2,756.8 L348.7,756.9 L350.2,757.1 L351.8,757.2 L353.3,757.2 L354.8,757.3 L356.3,757.4 L357.9,757.5 L359.4,757.5 L360.9,757.6 L362.4,757.7 L364.0,757.8 L365.5,757.9 L367.0,758.0 L368.5,758.1 L370.0,758.2 L371.5,758.3 L373.0,758.5 L374.5,758.6 L376.0,758.8 L377.5,758.9 L378.9,759.1 L380.4,759.3 L381.9,759.5 L383.4,759.7 L384.8,760.0 L386.3,760.2 L387.7,760.5 L389.2,760.8 L390.6,761.1 L392.1,761.5 L393.5,761.8 L395.0,762.2 L396.4,762.6 L397.8,763.0 L399.2,763.4 L400.7,763.9 L402.1,764.4 L403.5,764.8 L404.9,765.3 L406.3,765.8 L407.7,766.4 L409.1,766.9 L410.6,767.4 L412.0,768.0 L413.4,768.5 L414.8,769.1 L416.2,769.7 L417.6,770.2 L419.0,770.8 L420.4,771.4 L421.8,771.9 L423.2,772.5 L424.6,773.0 L426.0,773.6 L427.4,774.1 L428.8,774.6 L430.2,775.1 L431.7,775.6 L433.1,776.1 L434.5,776.6 L435.9,777.1 L437.3,777.5 L438.8,777.9 L440.2,778.3 L441.7,778.7 L443.1,779.1 L444.6,779.4 L446.0,779.7 L447.5,780.0 L448.9,780.3 L450.4,780.6 L451.9,780.8 L453.3,781.0 L454.8,781.2 L456.3,781.4 L457.8,781.6 L459.3,781.8 L460.7,782.0 L462.2,782.1 L463.7,782.3 L465.2,782.4 L466.7,782.5 L468.2,782.6 L469.7,782.8 L471.2,782.9 L472.7,783.0 L474.2,783.0 L475.7,783.1 L477.2,783.2 L478.7,783.3 L480.2,783.4 L481.7,783.5 L483.2,783.5 L484.7,783.6 L486.2,783.7 L487.7,783.8 L489.2,783.8 L490.7,783.9 L492.2,784.0 L493.7,784.0 L495.2,784.1 L496.7,784.2 L498.2,784.2 L499.7,784.3 L501.2,784.4 L502.7,784.4 L504.1,784.5 L505.6,784.5 L507.1,784.6 L508.6,784.7 L510.1,784.7 L511.6,784.8 L513.1,784.8 L514.6,784.9 L516.1,784.9 L517.6,785.0 L519.1,785.0 L520.6,785.1 L522.1,785.1 L523.6,785.2 L525.1,785.2 L526.6,785.3 L528.1,785.3 L529.6,785.3 L531.1,785.4 L532.6,785.4 L534.1,785.5 L535.6,785.5 L537.1,785.5 L538.6,785.6 L540.1,785.6 L541.6,785.7 L543.1,785.7 L544.6,785.7 L546.1,785.8 L547.6,785.8 L549.1,785.8 L550.6,785.9 L552.1,785.9 L553.6,785.9 L555.1,786.0 L556.6,786.0 L558.1,786.0 L559.6,786.1 L561.1,786.1 L562.6,786.1 L564.1,786.2 L565.6,786.2 L567.1,786.2 L568.6,786.2 L570.1,786.3 L571.6,786.3 L573.1,786.3 L574.6,786.3 L576.1,786.4 L577.6,786.4 L579.1,786.4 L580.6,786.4 L582.1,786.5 L583.6,786.5 L585.1,786.5 L586.6,786.5 L588.1,786.6 L589.6,786.6 L591.1,786.6 L592.6,786.6 L594.1,786.6 L595.6,786.7 L597.1,786.7 L598.6,786.7 L600.1,786.7 L601.6,786.8 L603.1,786.8 L604.6,786.8 L606.1,786.8 L607.6,786.8 L609.1,786.9 L610.6,786.9 L612.1,786.9 L613.6,786.9 L615.1,787.0 L616.6,787.0 L618.1,787.0 L619.5,787.0 L621.0,787.0 L622.5,787.1 L624.0,787.1 L625.5,787.1 L627.0,787.1 L628.5,787.1 L630.0,787.2 L631.5,787.2 L633.0,787.2 L634.5,787.2 L636.0,787.3 L637.5,787.3 L639.0,787.3 L640.5,787.3 L642.0,787.4 L643.5,787.4 L645.0,787.4 L646.5,787.4 L648.0,787.5 L649.5,787.5 L651.0,787.5 L652.5,787.5 L654.0,787.6 L655.5,787.6 L657.0,787.6 L658.5,787.7 L660.0,787.7 L661.5,787.7 L663.0,787.7 L664.5,787.8 L666.0,787.8 L667.5,787.8 L669.0,787.9 L670.5,787.9 L672.0,787.9 L673.5,788.0 L675.0,788.0 L676.5,788.0 L678.0,788.1 L679.5,788.1 L681.0,788.2 L682.5,788.2 L684.0,788.2" stroke="#00B050"/>
<path d="M83.0,697.5 L84.4,697.8 L85.8,698.3 L87.1,698.9 L88.3,699.7 L89.5,700.6 L90.7,701.7 L91.8,702.7 L92.8,703.9 L93.9,705.0 L94.9,706.2 L96.0,707.4 L97.1,708.5 L98.1,709.6 L99.2,710.6 L100.4,711.5 L101.6,712.2 L102.9,712.9 L104.2,713.3 L105.5,713.7 L107.0,713.8 L108.4,713.8 L109.9,713.6 L111.3,713.3 L112.7,712.9 L114.1,712.3 L115.4,711.6 L116.6,710.8 L117.8,709.8 L118.9,708.8 L119.9,707.6 L120.9,706.4 L121.8,705.2 L122.7,703.8 L123.6,702.5 L124.5,701.2 L125.4,699.9 L126.3,698.6 L127.2,697.3 L128.1,696.1 L129.1,694.9 L130.2,693.9 L131.3,692.9 L132.4,692.1 L133.7,691.3 L135.0,690.8 L136.5,690.3 L137.9,690.1 L139.4,689.9 L141.0,689.9 L142.5,690.1 L144.0,690.3 L145.4,690.7 L146.8,691.3 L148.1,691.9 L149.3,692.7 L150.4,693.6 L151.4,694.6 L152.4,695.6 L153.3,696.8 L154.1,698.0 L154.9,699.3 L155.6,700.7 L156.3,702.1 L156.9,703.5 L157.5,705.0 L158.0,706.4 L158.5,707.9 L159.0,709.4 L159.5,710.9 L159.9,712.4 L160.4,713.9 L160.8,715.4 L161.2,716.8 L161.5,718.3 L161.9,719.7 L162.3,721.2 L162.6,722.6 L163.0,724.0 L163.3,725.5 L163.7,726.9 L164.0,728.3 L164.4,729.8 L164.7,731.2 L165.1,732.6 L165.5,734.1 L165.9,735.5 L166.3,736.9 L166.7,738.4 L167.1,739.8 L167.5,741.2 L168.0,742.6 L168.4,744.1 L168.9,745.5 L169.4,746.9 L170.0,748.3 L170.5,749.7 L171.1,751.1 L171.7,752.4 L172.4,753.8 L173.0,755.1 L173.7,756.4 L174.5,757.7 L175.2,759.0 L176.0,760.3 L176.9,761.5 L177.8,762.7 L178.7,763.9 L179.6,765.0 L180.6,766.2 L181.6,767.3 L182.7,768.3 L183.9,769.4 L185.0,770.4 L186.2,771.3 L187.5,772.2 L188.8,773.1 L190.1,773.9 L191.4,774.7 L192.7,775.4 L194.1,776.0 L195.5,776.6 L196.9,777.1 L198.3,777.6 L199.7,778.0 L201.1,778.4 L202.5,778.7 L204.0,779.0 L205.4,779.3 L206.9,779.5 L208.4,779.7 L209.9,779.9 L211.3,780.0 L212.8,780.1 L214.3,780.2 L215.8,780.2 L217.3,780.3 L218.8,780.3 L220.3,780.3 L221.8,780.3 L223.2,780.3 L224.7,780.3 L226.2,780.2 L227.7,780.1 L229.2,780.0 L230.7,779.9 L232.2,779.8 L233.7,779.6 L235.2,779.5 L236.7,779.3 L238.2,779.1 L239.6,778.9 L241.1,778.6 L242.6,778.4 L244.1,778.1 L245.6,777.8 L247.0,777.5 L248.5,777.2 L250.0,776.9 L251.4,776.5 L252.9,776.2 L254.4,775.8 L255.8,775.4 L257.3,775.0 L258.7,774.5 L260.1,774.1 L261.6,773.6 L263.0,773.1 L264.4,772.6 L265.8,772.1 L267.2,771.6 L268.6,771.0 L270.0,770.5 L271.4,769.9 L272.8,769.3 L274.2,768.7 L275.6,768.1 L276.9,767.4 L278.3,766.8 L279.6,766.1 L281.0,765.4 L282.3,764.7 L283.6,764.0 L285.0,763.3 L286.3,762.5 L287.6,761.8 L288.8,761.0 L290.1,760.2 L291.4,759.4 L292.7,758.6 L293.9,757.8 L295.2,756.9 L296.4,756.1 L297.6,755.2 L298.9,754.3 L300.1,753.5 L301.3,752.6 L302.5,751.7 L303.7,750.8 L304.9,749.9 L306.1,749.0 L307.4,748.2 L308.6,747.3 L309.8,746.4 L311.0,745.5 L312.2,744.7 L313.4,743.8 L314.7,743.0 L315.9,742.1 L317.1,741.3 L318.4,740.5 L319.6,739.7 L320.9,738.9 L322.2,738.1 L323.5,737.4 L324.7,736.7 L326.0,735.9 L327.4,735.2 L328.7,734.6 L330.0,733.9 L331.4,733.3 L332.7,732.7 L334.1,732.2 L335.5,731.6 L336.9,731.1 L338.4,730.7 L339.8,730.3 L341.2,730.0 L342.7,729.8 L344.1,729.6 L345.6,729.5 L347.0,729.5 L348.5,729.5 L349.9,729.7 L351.4,730.0 L352.8,730.4 L354.3,730.9 L355.7,731.5 L357.2,732.1 L358.6,732.8 L360.0,733.5 L361.4,734.2 L362.8,734.9 L364.2,735.6 L365.6,736.4 L366.9,737.1 L368.2,737.8 L369.4,738.7 L370.6,739.6 L371.6,740.5 L372.6,741.5 L373.6,742.6 L374.5,743.8 L375.3,745.0 L376.1,746.2 L376.9,747.5 L377.7,748.7 L378.4,750.1 L379.2,751.4 L379.9,752.7 L380.7,754.0 L381.5,755.4 L382.3,756.7 L383.1,758.0 L383.9,759.2 L384.8,760.5 L385.7,761.7 L386.6,763.0 L387.5,764.2 L388.5,765.3 L389.5,766.5 L390.5,767.6 L391.5,768.8 L392.6,769.8 L393.7,770.9 L394.8,771.9 L395.9,772.9 L397.0,773.9 L398.2,774.9 L399.3,775.8 L400.5,776.7 L401.7,777.5 L403.0,778.3 L404.2,779.1 L405.5,779.8 L406.8,780.5 L408.1,781.2 L409.4,781.8 L410.7,782.4 L412.1,782.9 L413.5,783.4 L414.9,783.9 L416.3,784.3 L417.7,784.7 L419.1,785.0 L420.5,785.4 L422.0,785.7 L423.4,785.9 L424.9,786.2 L426.4,786.4 L427.9,786.6 L429.4,786.8 L430.9,787.0 L432.4,787.2 L433.9,787.3 L435.4,787.4 L436.9,787.6 L438.4,787.7 L439.9,787.8 L441.4,788.0 L442.9,788.1 L444.4,788.2 L445.9,788.3 L447.4,788.4 L449.0,788.5 L450.5,788.7 L452.0,788.8 L453.5,788.9 L455.0,789.0 L456.5,789.1 L458.0,789.2 L459.5,789.3 L461.0,789.4 L462.5,789.5 L464.0,789.6 L465.5,789.7 L467.0,789.8 L468.5,789.9 L470.0,789.9 L471.5,790.0 L473.0,790.1 L474.5,790.2 L476.0,790.3 L477.5,790.4 L479.0,790.5 L480.5,790.5 L482.0,790.6 L483.5,790.7 L485.0,790.8 L486.5,790.8 L488.0,790.9 L489.5,791.0 L491.0,791.0 L492.5,791.1 L494.0,791.2 L495.5,791.2 L497.0,791.3 L498.5,791.4 L500.0,791.4 L501.5,791.5 L503.0,791.5 L504.5,791.6 L506.0,791.7 L507.5,791.7 L509.0,791.8 L510.5,791.8 L512.0,791.9 L513.5,791.9 L515.0,792.0 L516.5,792.0 L518.0,792.1 L519.5,792.1 L521.0,792.1 L522.4,792.2 L523.9,792.2 L525.4,792.3 L526.9,792.3 L528.4,792.3 L529.9,792.4 L531.4,792.4 L532.9,792.4 L534.4,792.5 L535.9,792.5 L537.4,792.5 L538.9,792.6 L540.4,792.6 L541.9,792.6 L543.4,792.7 L544.8,792.7 L546.3,792.7 L547.8,792.7 L549.3,792.8 L550.8,792.8 L552.3,792.8 L553.8,792.8 L555.3,792.9 L556.8,792.9 L558.3,792.9 L559.8,792.9 L561.3,792.9 L562.7,792.9 L564.2,793.0 L565.7,793.0 L567.2,793.0 L568.7,793.0 L570.2,793.0 L571.7,793.0 L573.2,793.0 L574.7,793.1 L576.2,793.1 L577.7,793.1 L579.2,793.1 L580.6,793.1 L582.1,793.1 L583.6,793.1 L585.1,793.1 L586.6,793.1 L588.1,793.1 L589.6,793.1 L591.1,793.2 L592.6,793.2 L594.1,793.2 L595.6,793.2 L597.1,793.2 L598.6,793.2 L600.1,793.2 L601.5,793.2 L603.0,793.2 L604.5,793.2 L606.0,793.2 L607.5,793.2 L609.0,793.2 L610.5,793.2 L612.0,793.2 L613.5,793.2 L615.0,793.2 L616.5,793.2 L618.0,793.2 L619.5,793.2 L621.0,793.2 L622.5,793.2 L624.0,793.2 L625.5,793.2 L627.0,793.2 L628.5,793.2 L630.0,793.2 L631.5,793.2 L633.0,793.2 L634.5,793.2 L636.0,793.2 L637.5,793.2 L638.9,793.2 L640.4,793.2 L641.9,793.2 L643.4,793.2 L644.9,793.2 L646.4,793.2 L647.9,793.2 L649.4,793.2 L651.0,793.2 L652.5,793.2 L654.0,793.1 L655.5,793.1 L657.0,793.1 L658.5,793.1 L660.0,793.1 L661.5,793.1 L663.0,793.1 L664.5,793.1 L666.0,793.1 L667.5,793.1 L669.0,793.1 L670.5,793.1 L672.0,793.1 L673.5,793.1 L675.0,793.1 L676.5,793.1 L678.0,793.2 L679.5,793.2 L681.0,793.2 L682.6,793.2 L684.1,793.2" stroke="#7030A0"/>
<path d="M83.0,693.8 L84.4,693.6 L85.8,693.6 L87.3,693.7 L88.8,693.9 L90.3,694.1 L91.8,694.4 L93.3,694.7 L94.9,695.0 L96.4,695.4 L98.0,695.6 L99.5,695.9 L101.0,696.0 L102.5,696.1 L104.0,696.1 L105.4,695.9 L106.8,695.6 L108.2,695.3 L109.6,694.8 L110.9,694.2 L112.3,693.6 L113.5,692.8 L114.8,692.1 L116.0,691.2 L117.2,690.3 L118.4,689.3 L119.5,688.3 L120.6,687.2 L121.7,686.1 L122.7,685.0 L123.7,683.8 L124.7,682.7 L125.6,681.5 L126.5,680.3 L127.4,679.1 L128.3,677.8 L129.1,676.6 L130.0,675.4 L130.8,674.1 L131.6,672.8 L132.4,671.5 L133.2,670.3 L134.0,669.0 L134.8,667.7 L135.6,666.4 L136.3,665.2 L137.1,663.9 L137.9,662.6 L138.7,661.3 L139.5,660.1 L140.3,658.8 L141.2,657.6 L142.0,656.4 L142.9,655.2 L143.8,654.0 L144.7,652.8 L145.7,651.7 L146.6,650.5 L147.6,649.4 L148.7,648.3 L149.7,647.3 L150.8,646.2 L152.0,645.2 L153.2,644.3 L154.4,643.3 L155.7,642.4 L157.0,641.6 L158.4,640.9 L159.7,640.5 L161.1,640.3 L162.5,640.5 L163.9,641.0 L165.1,641.7 L166.2,642.6 L167.1,643.7 L167.9,644.9 L168.5,646.2 L169.1,647.6 L169.6,649.1 L170.1,650.6 L170.5,652.1 L170.9,653.6 L171.3,655.1 L171.7,656.6 L172.1,658.1 L172.5,659.6 L172.8,661.1 L173.2,662.6 L173.5,664.0 L173.8,665.5 L174.2,667.0 L174.5,668.5 L174.8,669.9 L175.1,671.4 L175.4,672.9 L175.7,674.3 L175.9,675.8 L176.2,677.2 L176.5,678.7 L176.7,680.2 L177.0,681.6 L177.2,683.1 L177.5,684.5 L177.7,686.0 L178.0,687.4 L178.2,688.9 L178.5,690.3 L178.7,691.8 L178.9,693.2 L179.2,694.7 L179.4,696.1 L179.6,697.6 L179.9,699.1 L180.1,700.5 L180.3,702.0 L180.6,703.5 L180.8,704.9 L181.0,706.4 L181.3,707.9 L181.5,709.4 L181.8,710.9 L182.0,712.3 L182.3,713.8 L182.6,715.3 L182.8,716.8 L183.1,718.3 L183.4,719.8 L183.7,721.3 L184.0,722.8 L184.3,724.3 L184.7,725.8 L185.0,727.2 L185.4,728.7 L185.8,730.2 L186.2,731.7 L186.6,733.1 L187.0,734.6 L187.5,736.0 L188.0,737.4 L188.5,738.8 L189.0,740.2 L189.6,741.6 L190.2,743.0 L190.8,744.4 L191.4,745.7 L192.1,747.1 L192.8,748.4 L193.6,749.7 L194.3,751.0 L195.1,752.2 L196.0,753.5 L196.9,754.7 L197.8,755.9 L198.7,757.1 L199.7,758.2 L200.7,759.3 L201.7,760.4 L202.8,761.4 L203.9,762.4 L205.0,763.4 L206.2,764.3 L207.4,765.1 L208.6,765.9 L209.8,766.7 L211.1,767.3 L212.5,768.0 L213.8,768.5 L215.2,769.0 L216.6,769.5 L218.0,769.9 L219.5,770.2 L220.9,770.5 L222.4,770.7 L224.0,770.9 L225.5,771.0 L227.0,771.2 L228.6,771.2 L230.1,771.3 L231.7,771.4 L233.2,771.4 L234.8,771.4 L236.4,771.4 L237.9,771.5 L239.5,771.5 L241.0,771.5 L242.5,771.5 L244.0,771.6 L245.5,771.6 L247.0,771.7 L248.5,771.7 L250.0,771.8 L251.5,771.8 L253.0,771.9 L254.4,772.0 L255.9,772.0 L257.4,772.0 L258.9,772.1 L260.3,772.1 L261.8,772.1 L263.3,772.1 L264.8,772.1 L266.3,772.1 L267.8,772.1 L269.3,772.0 L270.8,771.9 L272.3,771.8 L273.8,771.7 L275.3,771.6 L276.8,771.5 L278.3,771.3 L279.8,771.2 L281.3,771.0 L282.8,770.8 L284.3,770.6 L285.8,770.3 L287.3,770.1 L288.8,769.8 L290.2,769.5 L291.7,769.1 L293.2,768.8 L294.6,768.4 L296.1,768.1 L297.5,767.7 L299.0,767.3 L300.4,766.8 L301.8,766.4 L303.3,765.9 L304.7,765.4 L306.1,765.0 L307.5,764.5 L308.9,764.0 L310.3,763.4 L311.7,762.9 L313.1,762.4 L314.5,761.8 L315.9,761.2 L317.3,760.7 L318.7,760.1 L320.0,759.5 L321.4,758.9 L322.8,758.3 L324.2,757.7 L325.5,757.1 L326.9,756.5 L328.3,755.9 L329.7,755.3 L331.0,754.7 L332.4,754.1 L333.8,753.5 L335.2,752.9 L336.5,752.3 L337.9,751.7 L339.3,751.1 L340.6,750.5 L342.0,749.9 L343.4,749.3 L344.8,748.8 L346.2,748.2 L347.6,747.7 L349.0,747.1 L350.4,746.6 L351.8,746.1 L353.2,745.7 L354.6,745.2 L356.0,744.8 L357.5,744.5 L358.9,744.1 L360.4,743.8 L361.9,743.6 L363.4,743.4 L364.9,743.3 L366.4,743.2 L367.9,743.1 L369.5,743.1 L371.0,743.1 L372.5,743.2 L374.0,743.3 L375.5,743.5 L377.1,743.7 L378.5,744.0 L380.0,744.2 L381.5,744.6 L382.9,744.9 L384.4,745.4 L385.8,745.8 L387.2,746.3 L388.6,746.8 L390.0,747.3 L391.3,747.9 L392.7,748.5 L394.0,749.1 L395.4,749.7 L396.7,750.4 L398.0,751.1 L399.3,751.8 L400.6,752.5 L401.9,753.3 L403.2,754.0 L404.5,754.8 L405.8,755.6 L407.1,756.4 L408.3,757.1 L409.6,757.9 L410.9,758.8 L412.2,759.6 L413.4,760.4 L414.7,761.2 L416.0,762.0 L417.3,762.8 L418.6,763.6 L419.8,764.4 L421.1,765.2 L422.4,765.9 L423.7,766.7 L425.0,767.4 L426.4,768.2 L427.7,768.9 L429.0,769.6 L430.4,770.3 L431.7,770.9 L433.1,771.6 L434.4,772.2 L435.8,772.9 L437.1,773.5 L438.5,774.1 L439.9,774.7 L441.3,775.2 L442.7,775.8 L444.1,776.3 L445.5,776.9 L446.9,777.4 L448.3,777.9 L449.7,778.3 L451.1,778.8 L452.6,779.3 L454.0,779.7 L455.4,780.1 L456.8,780.5 L458.3,780.9 L459.7,781.3 L461.2,781.7 L462.6,782.0 L464.1,782.4 L465.5,782.7 L467.0,783.0 L468.4,783.3 L469.9,783.6 L471.3,783.9 L472.8,784.2 L474.3,784.4 L475.7,784.6 L477.2,784.9 L478.7,785.1 L480.1,785.3 L481.6,785.5 L483.1,785.7 L484.6,785.9 L486.0,786.0 L487.5,786.2 L489.0,786.3 L490.5,786.5 L492.0,786.6 L493.5,786.7 L495.0,786.8 L496.5,786.9 L498.0,787.0 L499.4,787.1 L500.9,787.2 L502.4,787.3 L503.9,787.3 L505.4,787.4 L506.9,787.4 L508.4,787.5 L509.9,787.5 L511.4,787.6 L512.9,787.6 L514.5,787.6 L516.0,787.6 L517.5,787.7 L519.0,787.7 L520.5,787.7 L522.0,787.7 L523.5,787.7 L525.0,787.7 L526.5,787.7 L528.0,787.7 L529.5,787.7 L531.1,787.6 L532.6,787.6 L534.1,787.6 L535.6,787.6 L537.1,787.6 L538.6,787.6 L540.1,787.5 L541.6,787.5 L543.1,787.5 L544.7,787.5 L546.2,787.5 L547.7,787.4 L549.2,787.4 L550.7,787.4 L552.2,787.4 L553.7,787.4 L555.2,787.4 L556.7,787.4 L558.2,787.4 L559.8,787.3 L561.3,787.3 L562.8,787.4 L564.3,787.4 L565.8,787.4 L567.3,787.4 L568.8,787.4 L570.3,787.4 L571.8,787.4 L573.3,787.4 L574.8,787.5 L576.3,787.5 L577.8,787.5 L579.3,787.6 L580.8,787.6 L582.3,787.6 L583.8,787.7 L585.3,787.7 L586.8,787.7 L588.3,787.8 L589.8,787.8 L591.2,787.9 L592.7,787.9 L594.2,787.9 L595.7,788.0 L597.2,788.0 L598.7,788.1 L600.2,788.1 L601.7,788.2 L603.2,788.2 L604.7,788.3 L606.2,788.3 L607.7,788.4 L609.2,788.4 L610.7,788.5 L612.1,788.5 L613.6,788.6 L615.1,788.6 L616.6,788.7 L618.1,788.7 L619.6,788.8 L621.1,788.8 L622.6,788.9 L624.1,788.9 L625.6,789.0 L627.1,789.0 L628.6,789.1 L630.0,789.1 L631.5,789.2 L633.0,789.2 L634.5,789.3 L636.0,789.3 L637.5,789.3 L639.0,789.4 L640.5,789.4 L642.0,789.5 L643.5,789.5 L645.0,789.5 L646.5,789.6 L648.0,789.6 L649.5,789.6 L651.0,789.6 L652.5,789.6 L654.0,789.7 L655.4,789.7 L656.9,789.7 L658.4,789.7 L659.9,789.7 L661.4,789.7 L662.9,789.7 L664.4,789.7 L665.9,789.7 L667.4,789.7 L668.9,789.7 L670.5,789.7 L672.0,789.7 L673.5,789.6 L675.0,789.6 L676.5,789.6 L678.0,789.5 L679.5,789.5 L681.0,789.5 L682.5,789.4 L684.0,789.4" stroke="#FF0000"/>
</g>
<g class="tx"><text transform="translate(318.70 49.50) scale(1 1.000)" font-size="20.00" text-anchor="middle">(I)</text>
<text transform="translate(318.50 78.10) scale(1 1.000)" font-size="20.00" text-anchor="middle">(II)</text>
<text transform="translate(319.10 110.00) scale(1 1.000)" font-size="20.00" text-anchor="middle">(III)</text>
<text transform="translate(318.70 155.90) scale(1 1.000)" font-size="20.00" text-anchor="middle">(IV)</text>
<text transform="translate(76.90 358.60) scale(1 1.080)" font-size="23.80" text-anchor="middle">320</text>
<text transform="translate(213.30 358.60) scale(1 1.080)" font-size="23.80" text-anchor="middle">370</text>
<text transform="translate(349.40 358.60) scale(1 1.080)" font-size="23.80" text-anchor="middle">420</text>
<text transform="translate(485.80 358.60) scale(1 1.080)" font-size="23.80" text-anchor="middle">470</text>
<text transform="translate(622.30 358.60) scale(1 1.080)" font-size="23.80" text-anchor="middle">520</text>
<text transform="translate(345.45 396.50) scale(1 1.070)" font-size="23.65" text-anchor="middle">Wavelength (nm)</text>
<text transform="translate(351.50 445.70) scale(1 1.040)" font-size="32.60" text-anchor="middle">A</text>
<text transform="translate(45.70 161.45) rotate(-90) scale(1 1.000)" font-size="30.40" text-anchor="middle">Fluorescence Intensity</text>
<text transform="translate(66.00 479.20) scale(1 1.000)" font-size="20.40" text-anchor="end">2</text>
<text transform="translate(66.00 559.50) scale(1 1.000)" font-size="20.40" text-anchor="end">1.5</text>
<text transform="translate(66.00 639.70) scale(1 1.000)" font-size="20.40" text-anchor="end">1</text>
<text transform="translate(66.00 720.00) scale(1 1.000)" font-size="20.40" text-anchor="end">0.5</text>
<text transform="translate(66.00 800.30) scale(1 1.000)" font-size="20.40" text-anchor="end">0</text>
<text transform="translate(85.70 824.60) scale(1 1.080)" font-size="23.80" text-anchor="middle">200</text>
<text transform="translate(252.40 824.60) scale(1 1.080)" font-size="23.80" text-anchor="middle">250</text>
<text transform="translate(418.90 824.60) scale(1 1.080)" font-size="23.80" text-anchor="middle">300</text>
<text transform="translate(585.40 824.60) scale(1 1.080)" font-size="23.80" text-anchor="middle">350</text>
<text transform="translate(352.60 861.60) scale(1 1.070)" font-size="23.65" text-anchor="middle">Wavelength (nm)</text>
<text transform="translate(341.50 903.80) scale(1 1.060)" font-size="32.80" text-anchor="middle">B</text>
<text transform="translate(25.00 645.75) rotate(-90) scale(1 1.000)" font-size="30.30" text-anchor="middle">Absorbance</text>
<text transform="translate(256.00 645.80) scale(1 1.000)" font-size="20.00" text-anchor="middle">(III)</text>
<text transform="translate(346.00 720.50) scale(1 1.000)" font-size="20.00" text-anchor="middle">(I)</text>
<text transform="translate(400.60 738.20) scale(1 1.000)" font-size="20.00" text-anchor="middle">(II)</text></g>
</svg>
</body></html>
